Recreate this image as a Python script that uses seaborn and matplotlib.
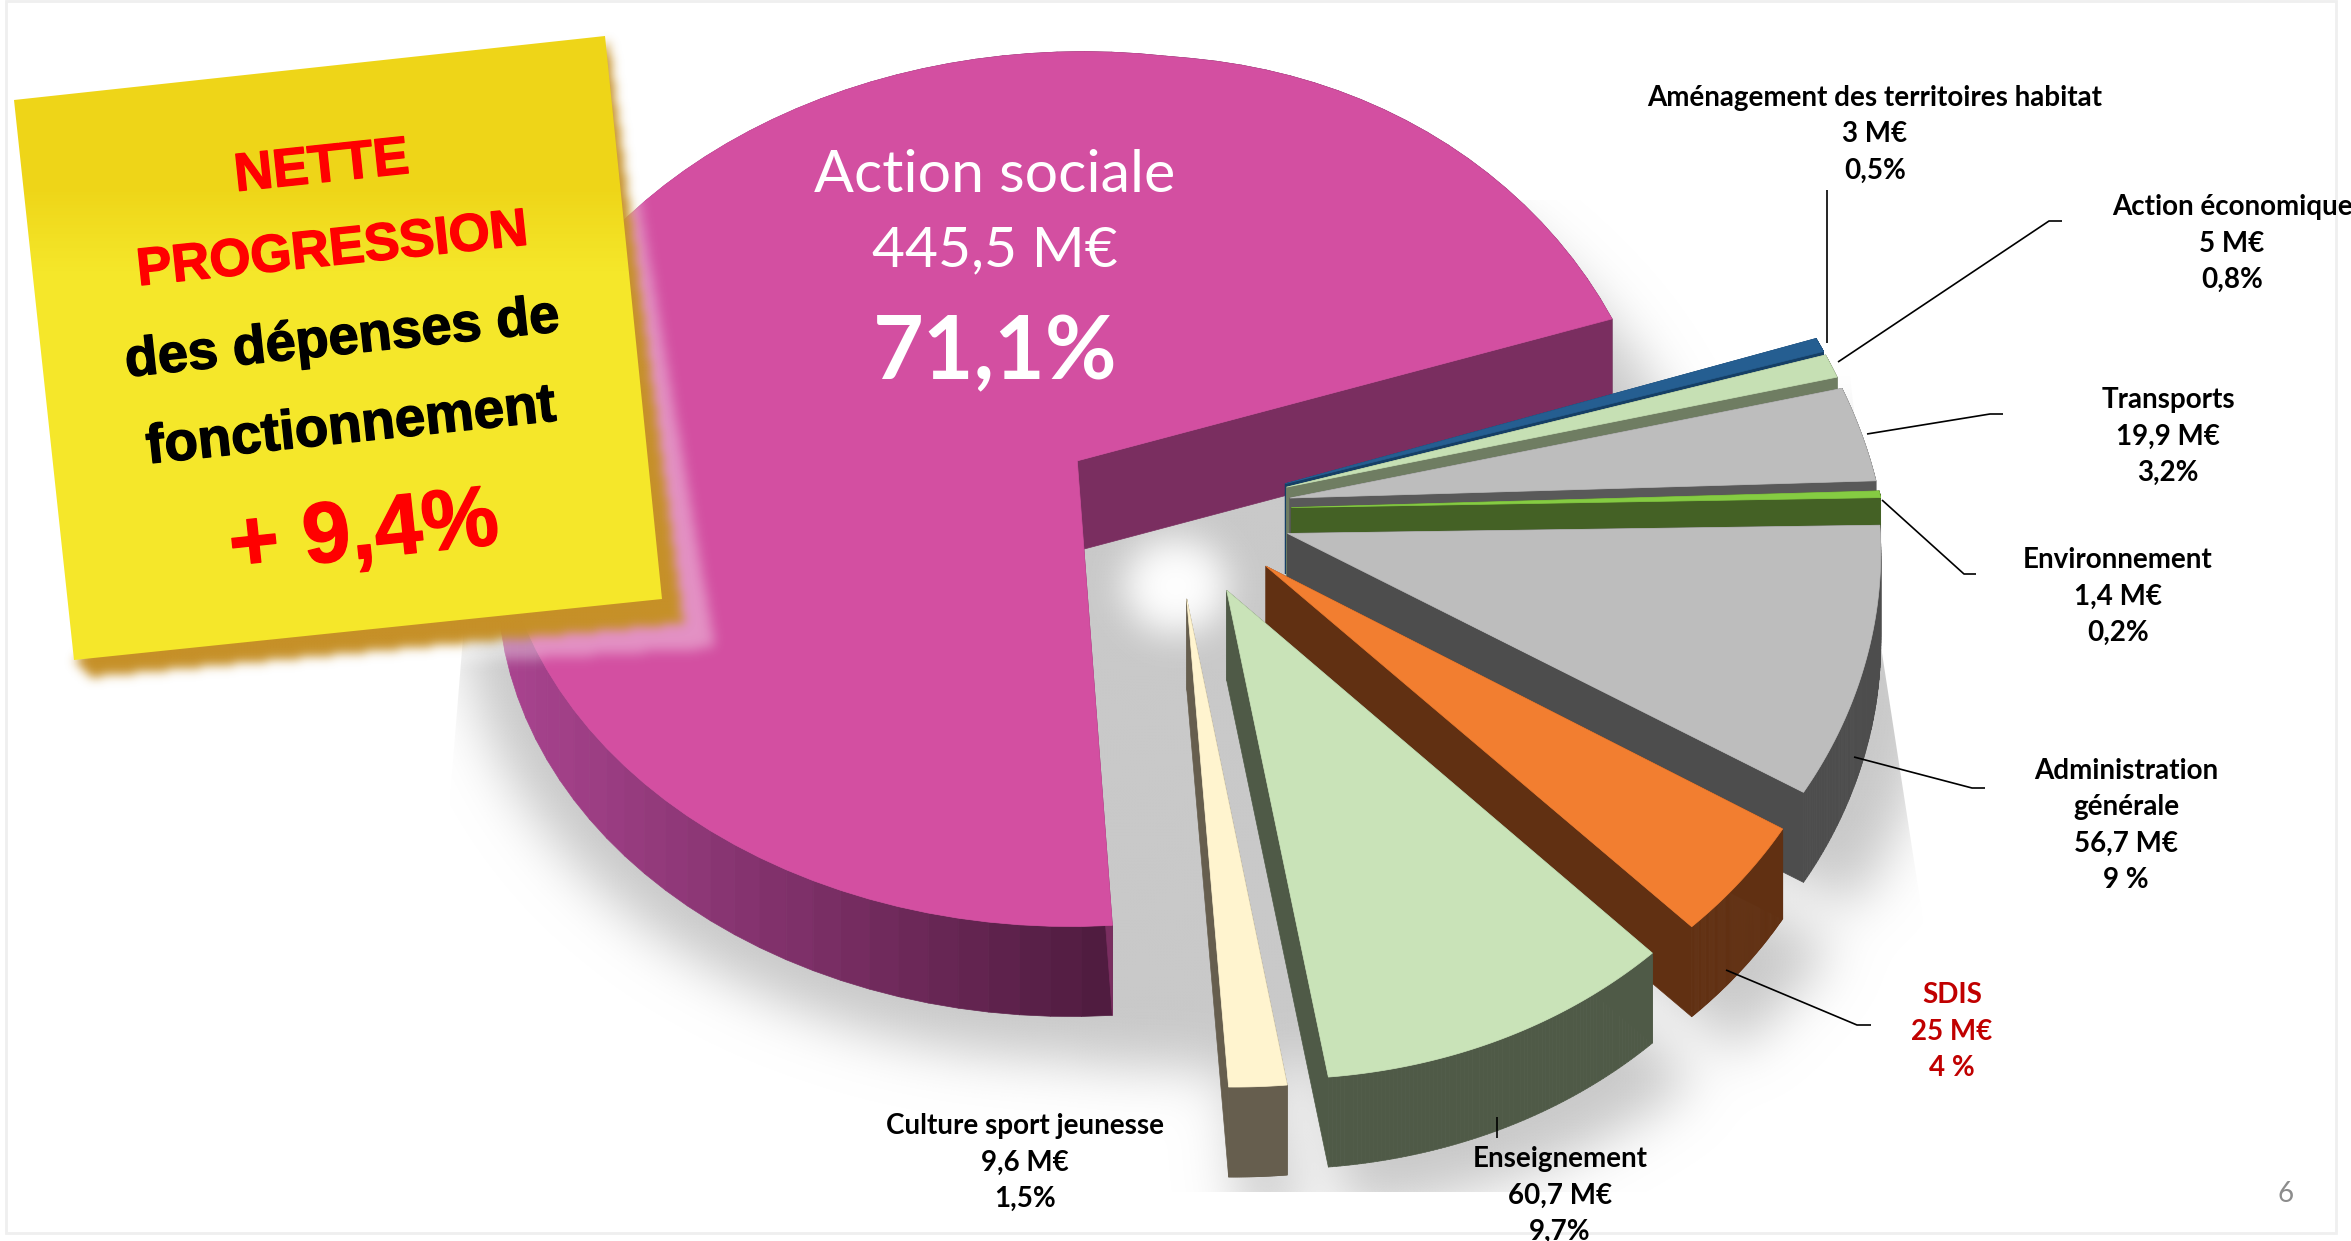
import numpy as np
import matplotlib
matplotlib.use("Agg")
import matplotlib.pyplot as plt
import matplotlib.patheffects as pe
from matplotlib.collections import PolyCollection
from matplotlib.patches import Polygon, Rectangle
from matplotlib.path import Path
import seaborn as sns

# Data
sectors = ["Action sociale", "Culture sport jeunesse", "Enseignement", "SDIS", "Administration générale",
           "Environnement", "Transports", "Action économique", "Aménagement des territoires habitat"]
amounts = [445.5, 9.6, 60.7, 25, 56.7, 1.4, 19.9, 5, 3]
explode = [0.2] * 9
face_colors = ["#d34fa1", "#fff4cf", "#c9e3b8", "#f27e30", "#bdbdbd", "#85cc42", "#bdbdbd", "#c6e0b4", "#255e91"]
wall_colors = ["#7a2e60", "#665e4e", "#4f5a47", "#613012", "#4d4d4d", "#446125", "#595959", "#6f7d62", "#153f66"]

label_lines = {
    "Aménagement des territoires habitat": ["3 M€", "0,5%"],
    "Action économique": ["5 M€", "0,8%"],
    "Transports": ["19,9 M€", "3,2%"],
    "Environnement": ["1,4 M€", "0,2%"],
    "Administration\ngénérale": ["56,7 M€", "9 %"],
    "SDIS": ["25 M€", "4 %"],
    "Enseignement": ["60,7 M€", "9,7%"],
    "Culture sport jeunesse": ["9,6 M€", "1,5%"],
}
label_xy = [(1875, 98), (2232, 207), (2168, 400), (2118, 560), (2126, 771), (1952, 995), (1560, 1159), (1025, 1126)]
leaders = [
    [(1827, 190), (1827, 343)],
    [(1838, 362), (2049, 221), (2062, 221)],
    [(1867, 434), (1990, 414), (2003, 414)],
    [(1882, 500), (1964, 574), (1976, 574)],
    [(1854, 757), (1972, 788), (1985, 788)],
    [(1726, 970), (1857, 1025), (1871, 1025)],
    [(1497, 1117), (1497, 1138)],
]

W, H = 2351, 1241
sns.set_theme(style="white")
plt.rcParams["font.family"] = ["Lato", "DejaVu Sans"]

# pie geometry, drawn on a throwaway axes and then tipped over in perspective
XC, YC, BX, BY, K, DEPTH = 1173, 510, 592, 442, 0.065, 90


def project(xy):
    x, y = xy[:, 0], xy[:, 1]
    wy = 1 + K * y
    # the right side of the original is less widened and more stretched than a plain projection
    wx = np.where(x > 0, np.where(y < 0, 1 + 0.03 * y, 1 + 0.14 * y), wy)
    bx = np.where(x > 0, BX, 582)
    stretch = 1 + 0.07 * np.maximum(x, 0)
    return np.column_stack([XC + bx * x / wx, YC - BY * y * stretch / wy])


def wedge_outline(wedge, scale=1.0, exploded=True):
    t = np.radians(np.linspace(wedge.theta1, wedge.theta2, 90))
    arc = np.column_stack([np.cos(t), np.sin(t)]) * wedge.r * scale
    pts = np.vstack([[0, 0], arc])
    if exploded:
        pts = pts + np.array(wedge.center)
    return project(pts)


def blurred_mask(polys, sigma, step=3):
    xs, ys = np.meshgrid(np.arange(0, W, step), np.arange(0, H, step))
    pts = np.column_stack([xs.ravel(), ys.ravel()])
    mask = np.zeros(xs.shape)
    for p in polys:
        mask = np.maximum(mask, Path(p).contains_points(pts).reshape(xs.shape).astype(float))
    g = np.exp(-0.5 * (np.arange(-3 * sigma, 3 * sigma + step, step) / sigma) ** 2)
    g /= g.sum()
    mask = np.apply_along_axis(lambda r: np.convolve(r, g, mode="same"), 0, mask)
    mask = np.apply_along_axis(lambda r: np.convolve(r, g, mode="same"), 1, mask)
    return mask


def soft_image(ax, polys, color, sigma, alpha=1.0, zorder=1, clip=None):
    mask = blurred_mask(polys, sigma)
    rgba = np.ones(mask.shape + (4,))
    rgba[..., :3] = matplotlib.colors.to_rgb(color)
    rgba[..., 3] = mask * alpha
    im = ax.imshow(rgba, extent=(0, W, H, 0), zorder=zorder, aspect="auto", interpolation="bilinear")
    if clip is not None:
        im.set_clip_path(Polygon(clip, transform=ax.transData))
    return im


tmp_fig, tmp_ax = plt.subplots()
wedges, _ = tmp_ax.pie(amounts, explode=explode, startangle=18, counterclock=True, radius=1)
plt.close(tmp_fig)

fig = plt.figure(figsize=(W / 100, H / 100), dpi=100)
ax = fig.add_axes([0, 0, 1, 1])
ax.set_axis_off()

# shadow under the pie, with the pale patch where the slices meet
shadow_polys = [wedge_outline(w, 1.08) + np.array([8, 92]) for w in wedges]
shadow_polys += [wedge_outline(w, 0.98, exploded=False) + np.array([0, 95]) for w in wedges]
shadow_clip = [(500, 200), (462, 650), (418, 1192), (1965, 1192), (1880, 640), (1830, 200)]
soft_image(ax, shadow_polys, "#c9c9c9", 26, zorder=1, clip=shadow_clip)
t = np.radians(np.arange(0, 360, 10))
pale = np.column_stack([1175 + 52 * np.cos(t), 585 + 48 * np.sin(t)])
soft_image(ax, [pale], "#ffffff", 18, zorder=2)

# draw back to front
order = [0] + list(range(len(wedges) - 1, 0, -1))
arc_shades = sns.blend_palette(["#a8438e", "#4f1b3f"], 60)
for i in order:
    pts = wedge_outline(wedges[i])
    closed = np.vstack([pts, pts[:1]])
    arc_quads, arc_cols, cut_quads = [], [], []
    for a, b in zip(closed[:-1], closed[1:]):
        q = [a, b, b + [0, DEPTH], a + [0, DEPTH]]
        if np.hypot(*(a - b)) < 60:
            arc_quads.append(q)
            if i == 0:
                # the outer rim of the big slice darkens towards its foot
                s = np.clip(((a[0] + b[0]) / 2 - 510) / 590, 0, 1)
                arc_cols.append(arc_shades[int(s * 59)])
            else:
                arc_cols.append(wall_colors[i])
        else:
            cut_quads.append(q)
    ax.add_collection(PolyCollection(arc_quads, facecolors=arc_cols, edgecolors=arc_cols, linewidths=0.5, zorder=3))
    ax.add_collection(PolyCollection(cut_quads, facecolors=wall_colors[i], edgecolors=wall_colors[i],
                                     linewidths=0.5, zorder=3))
    ax.add_patch(Polygon(pts, closed=True, facecolor=face_colors[i], edgecolor=face_colors[i], lw=0.5, zorder=3))

# leader lines
for line in leaders:
    xs, ys = zip(*line)
    ax.plot(xs, ys, color="black", lw=1.2, zorder=4, solid_capstyle="butt")

# labels
for (name, rest), (x, y) in zip(label_lines.items(), label_xy):
    col = "#c00000" if name == "SDIS" else "black"
    lines = name.split("\n") + rest
    for n, txt in enumerate(lines):
        ax.text(x, y + n * 36.5, txt, ha="center", va="center", fontsize=20, fontweight="bold", color=col, zorder=6)

ax.text(995, 176, "Action sociale", ha="center", va="center", fontsize=42.5, color="white", zorder=6)
ax.text(995, 251, "445,5 M€", ha="center", va="center", fontsize=41, color="white", zorder=6)
ax.text(995, 354, "71,1%", ha="center", va="center", fontsize=63, fontweight="bold", color="white", zorder=6)

# the yellow note
note = [(14, 100), (605, 36), (662, 599), (74, 660)]
halo = [(612, 46), (714, 647), (89, 683), (60, 640)]
under = [(607, 40), (682, 622), (88, 676), (74, 660)]
soft_image(ax, [halo], "#ffffff", 6, alpha=0.38, zorder=7)
soft_image(ax, [under], "#c69027", 5, zorder=8)
grad = np.linspace(0, 1, 200)[:, None]
top, bot = np.array(matplotlib.colors.to_rgb("#eed518")), np.array(matplotlib.colors.to_rgb("#f5e72a"))
s = np.clip((grad - 0.25) / 0.13, 0, 1)
img = (top * (1 - s) + bot * s)[:, None, :]
im = ax.imshow(img, extent=(0, W, 680, 20), zorder=9, aspect="auto")
im.set_clip_path(Polygon(note, transform=ax.transData))

thick = [pe.withStroke(linewidth=1, foreground="black")]
thick_red = [pe.withStroke(linewidth=1, foreground="#ff0000")]
note_kw = dict(ha="center", va="center", rotation=6, rotation_mode="anchor", family="Liberation Sans",
               fontweight="bold", zorder=10)
ax.text(322, 168, "NETTE", color="#ff0000", fontsize=38.5, path_effects=thick_red, **note_kw)
ax.text(332, 251, "PROGRESSION", color="#ff0000", fontsize=38, path_effects=thick_red, **note_kw)
ax.text(342, 340, "des dépenses de", color="black", fontsize=39, path_effects=thick, **note_kw)
ax.text(351, 428, "fonctionnement", color="black", fontsize=39.5, path_effects=thick, **note_kw)
ax.text(364, 536, "+ 9,4%", color="#ff0000", fontsize=62, path_effects=thick_red, **note_kw)

# slide furniture
ax.add_patch(Rectangle((6, 1), 2330, 1232, fill=False, edgecolor="#efefef", lw=2, zorder=0))
ax.text(2286, 1194, "6", ha="center", va="center", fontsize=20, color="#8c8c8c", zorder=6)

ax.set_xlim(0, W)
ax.set_ylim(H, 0)
fig.savefig("out.png", dpi=100, facecolor="white")
